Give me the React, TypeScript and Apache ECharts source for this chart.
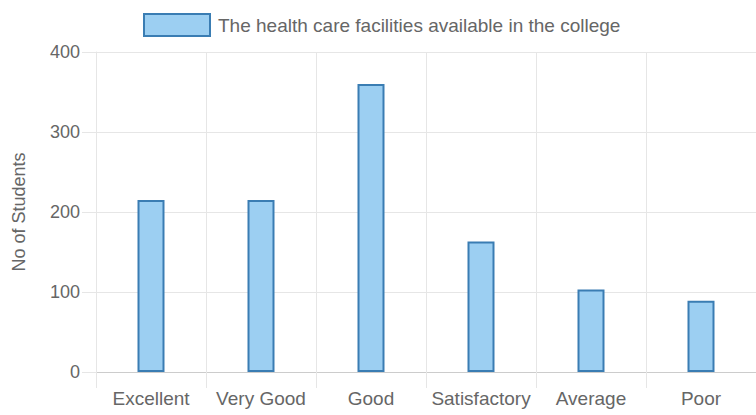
import React, { useEffect, useRef } from "react";
import * as echarts from "echarts";

const categories = ["Excellent", "Very Good", "Good", "Satisfactory", "Average", "Poor"];
const students = [215, 215, 360, 163, 103, 89];
const seriesName = "The health care facilities available in the college";
const yAxisName = "No of Students";

const FONT = "'Liberation Sans', Arial, Helvetica, sans-serif";
const TEXT = "#666666";
const GRID = "#e6e6e6";

export default function App() {
  const ref = useRef<HTMLDivElement>(null);
  useEffect(() => {
    if (!ref.current) return;
    const chart = echarts.init(ref.current, undefined, { renderer: "svg" });
    chart.setOption({
      animation: false,
      textStyle: { fontFamily: FONT },
      legend: {
        left: 138,
        top: 8,
        itemWidth: 66,
        itemHeight: 22,
        icon: "rect",
        textStyle: { fontSize: 19, color: TEXT, fontFamily: FONT, padding: [0, 0, 0, 3] },
        data: [seriesName],
      },
      grid: { left: 96, width: 663, top: 52, bottom: 43, containLabel: false },
      xAxis: {
        type: "category",
        data: categories,
        boundaryGap: true,
        axisLine: { show: true, lineStyle: { color: "#cccccc", width: 1 } },
        axisTick: { show: true, length: 16, interval: 0, lineStyle: { color: GRID } },
        splitLine: { show: true, interval: 0, lineStyle: { color: GRID } },
        axisLabel: { fontSize: 19, color: TEXT, fontFamily: FONT, margin: 17, interval: 0 },
      },
      yAxis: {
        type: "value",
        min: 0,
        max: 400,
        interval: 100,
        name: yAxisName,
        nameLocation: "middle",
        nameRotate: 90,
        nameGap: 68,
        nameTextStyle: { fontSize: 18, color: TEXT, fontFamily: FONT },
        axisLine: { show: true, lineStyle: { color: GRID } },
        axisTick: { show: true, length: 14, lineStyle: { color: GRID } },
        splitLine: { show: true, lineStyle: { color: GRID } },
        axisLabel: { fontSize: 18, color: TEXT, fontFamily: FONT, margin: 16 },
      },
      series: [
        {
          name: seriesName,
          type: "bar",
          data: students,
          barWidth: 27,
          itemStyle: { color: "#9ccff2", borderColor: "#3a7db3", borderWidth: 2 },
        },
      ],
    });
    return () => chart.dispose();
  }, []);
  return (
    <div
      ref={ref}
      style={{ position: "fixed", left: 0, top: 0, width: 756, height: 415, background: "#ffffff" }}
    />
  );
}
